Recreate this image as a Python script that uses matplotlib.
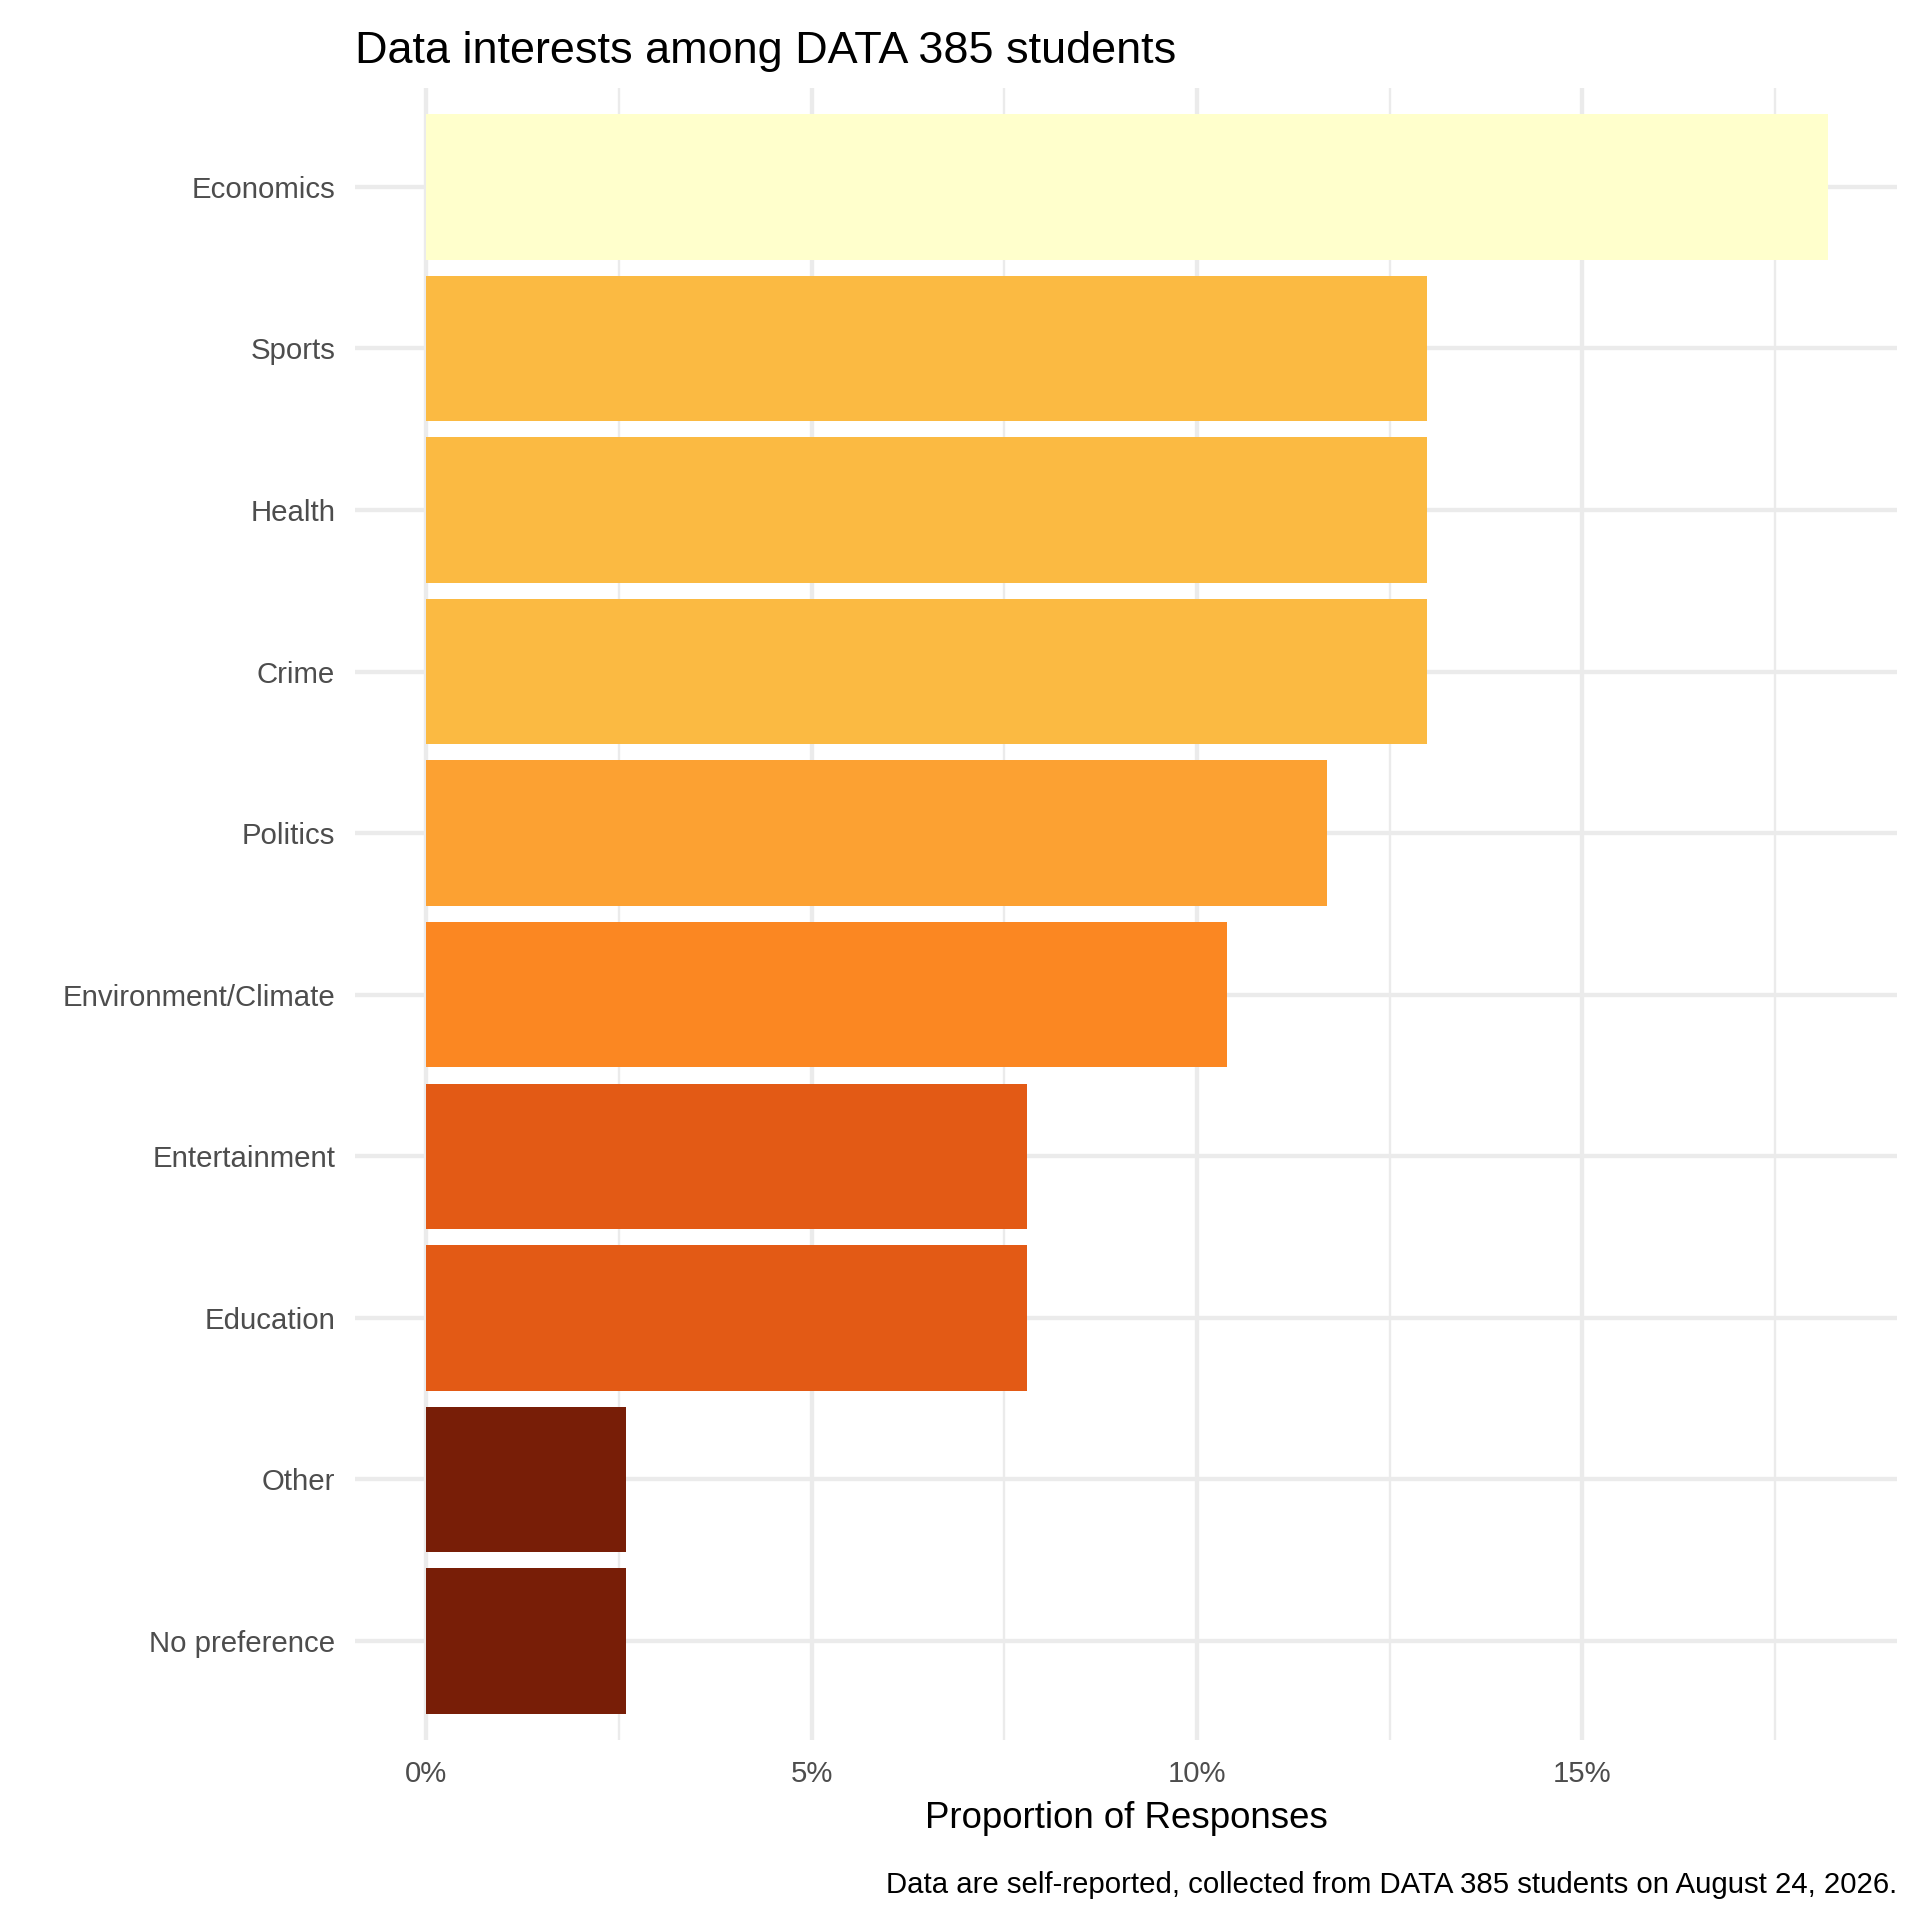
import matplotlib
matplotlib.use('Agg')
import matplotlib.pyplot as plt
import numpy as np

categories = ["Economics", "Sports", "Health", "Crime", "Politics",
              "Environment/Climate", "Entertainment", "Education", "Other", "No preference"]
counts = [14, 10, 10, 10, 9, 8, 6, 6, 2, 2]
total = 77
colors = ["#FFFFCC", "#FBBA42", "#FBBA42", "#FBBA42", "#FCA132",
          "#FB8722", "#E35A15", "#E35A15", "#781E07", "#781E07"]

plt.rcParams['font.family'] = ['Liberation Sans', 'DejaVu Sans']

props = np.array(counts) / total * 100
ypos = np.arange(len(categories))[::-1]

fig = plt.figure(figsize=(8, 8), dpi=240)
ax = fig.add_axes([0.185, 0.094, 0.803, 0.86])
ax.barh(ypos, props, height=0.9, color=colors, zorder=2)

ax.set_xlim(-0.92, 19.08)
ax.set_ylim(-0.61, len(categories) - 1 + 0.61)
ax.set_xticks([0, 5, 10, 15])
ax.set_xticklabels(["0%", "5%", "10%", "15%"])
ax.set_xticks([2.5, 7.5, 12.5, 17.5], minor=True)
ax.set_yticks(ypos)
ax.set_yticklabels(categories)
ax.grid(True, which='major', color='#EBEBEB', linewidth=1.3, zorder=0)
ax.grid(True, which='minor', axis='x', color='#EBEBEB', linewidth=0.7, zorder=0)
for s in ax.spines.values():
    s.set_visible(False)
ax.tick_params(which='both', length=0, labelsize=8.8, labelcolor='#4D4D4D', pad=6)

ax.set_xlabel("Proportion of Responses", fontsize=11, labelpad=4)
fig.text(0.185, 0.973, "Data interests among DATA 385 students", fontsize=13.5, va='center')
fig.text(0.988, 0.018, "Data are self-reported, collected from DATA 385 students on August 24, 2026.",
         fontsize=8.8, ha='right', va='center')

fig.savefig("out.png", dpi=240)
